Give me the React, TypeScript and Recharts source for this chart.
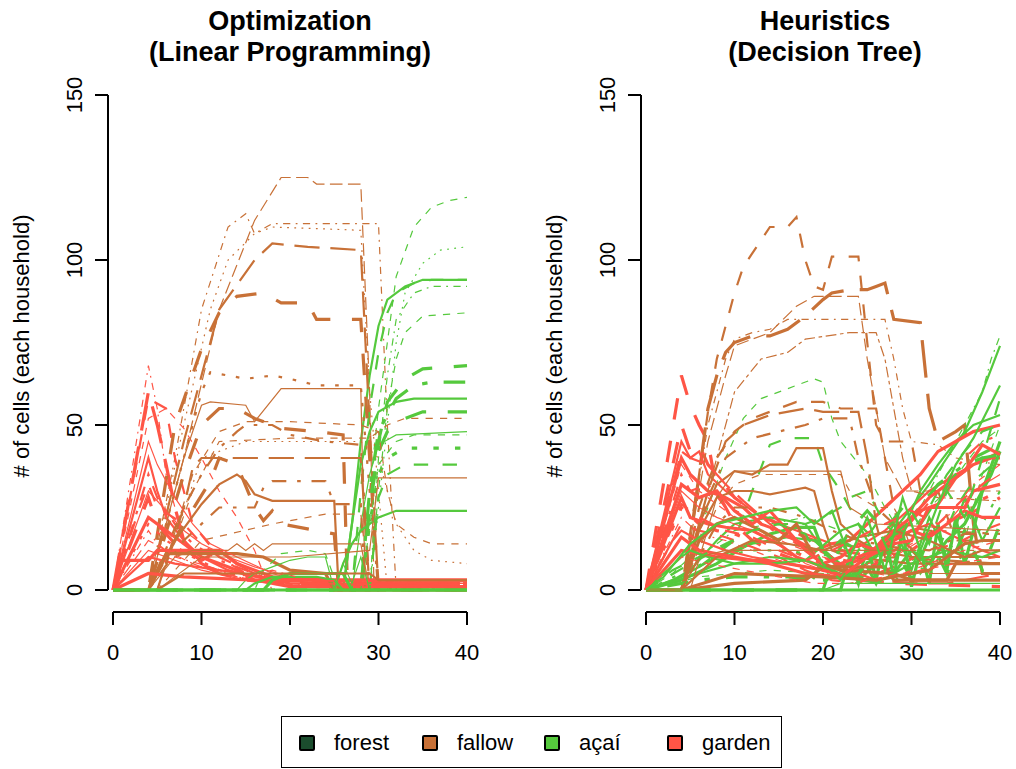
import React from 'react';
import { LineChart, Line, XAxis, YAxis, ReferenceLine } from 'recharts';

type Pt = [number, number];

// time axis ticks and cell-count ticks
const years = [0, 10, 20, 30, 40];
const cellTicks = [0, 50, 100, 150];

const landUses = ['forest', 'fallow', 'açaí', 'garden'];
const landColors = ['#1B4D2E', '#C87137', '#55C93D', '#FF5546'];

// ---------- Optimization (Linear Programming) ----------
const optFallow: Pt[][] = [
  [[0, 0], [4, 0], [8, 40], [12, 85], [16, 112], [19, 125], [22, 125], [23, 123], [28, 123], [29, 60], [29.5, 0], [40, 0]],
  [[0, 0], [4, 0], [7, 40], [10, 85], [13, 110], [15, 114], [16, 108], [18, 111], [30, 111], [31, 50], [32, 0], [40, 0]],
  [[0, 0], [4, 0], [8, 50], [11, 85], [13, 100], [16, 108], [18, 110], [28, 109], [29, 60], [31, 0], [40, 0]],
  [[0, 0], [4, 0], [8, 45], [12, 85], [16, 100], [18, 105], [22, 104], [28, 103], [29, 50], [30, 0], [40, 0]],
  [[0, 0], [4, 0], [7, 50], [10, 73], [12, 84], [14, 89], [17, 90], [19, 87], [22, 87], [23, 82], [28, 82], [29, 40], [30, 0], [40, 0]],
  [[0, 0], [4, 0], [7, 30], [10, 60], [11, 66], [15, 64], [18, 65], [20, 64], [23, 62], [28, 62], [29, 30], [30, 0], [40, 0]],
  [[0, 0], [4, 0], [8, 40], [10, 56], [11, 57], [15, 56], [16, 51], [19, 61], [28, 61], [28.5, 0], [40, 0]],
  [[0, 0], [4, 0], [8, 35], [10, 50], [12, 55], [14, 55], [16, 52], [19, 49], [23, 48], [26, 47], [26.5, 0], [40, 0]],
  [[0, 0], [4, 0], [8, 25], [10, 35], [12, 43], [14, 48], [15, 50], [18, 50], [20, 47], [24, 45], [28, 44], [29, 0], [40, 0]],
  [[0, 0], [5, 0], [8, 25], [9, 37], [10, 40], [28, 40], [29, 0], [40, 0]],
  [[0, 0], [4, 0], [7, 15], [10, 26], [12, 32], [14, 35], [15, 33], [16, 29], [18, 27], [25, 27], [25.5, 0], [40, 0]],
  [[0, 0], [4, 0], [8, 15], [12, 25], [16, 25], [17, 31], [18, 33], [24, 33], [25, 26], [28, 26], [28.5, 0], [40, 0]],
  [[0, 0], [4, 0], [8, 20], [11, 33], [12, 40], [14, 38], [16, 25], [17, 21], [18, 24], [19, 20], [25, 17], [25.5, 0], [40, 0]],
  [[0, 0], [5, 0], [10, 15], [18, 20], [24, 23], [28, 23], [29, 0], [40, 0]],
  [[0, 0], [4, 0], [7, 10], [9, 12], [13, 12], [14, 14], [15, 12], [16, 14], [17, 12], [18, 14], [28, 14], [29, 0], [40, 0]],
  [[0, 0], [4, 0], [6, 11], [14, 11], [17, 10], [20, 6], [24, 5], [25, 0], [40, 0]],
  [[0, 0], [5, 0], [9, 35], [12, 48], [15, 51], [20, 51], [28, 50], [30, 48], [31, 30], [32, 20], [34, 16], [36, 14], [40, 14]],
  [[0, 0], [5, 0], [10, 40], [15, 45], [28, 45], [30, 40], [32, 20], [34, 12], [36, 9], [40, 8]],
  [[0, 0], [5, 0], [9, 30], [12, 45], [20, 46], [29, 46], [31, 50], [33, 52], [40, 52]],
  [[0, 0], [5, 0], [10, 10], [20, 10], [29, 12], [30, 34], [40, 34]],
  [[0, 0], [5, 0], [8, 5], [29, 5], [30, 3], [40, 3]],
];
const optFallowSty = ['5-1', '4-1', '3-1', '5-2', '2-3', '3-2', '1-1', '2-3', '4-2', '5-2', '1-2', '4-2', '2-3', '2-1', '1-1', '1-3', '2-1', '3-1', '2-1', '1-1', '1-2'];

const optAcai: Pt[][] = [
  [[0, 0], [28, 0], [29, 30], [30, 55], [31, 75], [32, 95], [34, 110], [36, 116], [38, 118], [40, 119]],
  [[0, 0], [29, 0], [31, 50], [32, 75], [33, 90], [35, 99], [37, 103], [40, 104]],
  [[0, 0], [26, 0], [27, 20], [28, 45], [29, 65], [30, 80], [31, 88], [33, 92], [35, 94], [40, 94]],
  [[0, 0], [27, 0], [28, 30], [29, 55], [30, 72], [31, 84], [32, 90], [34, 93], [36, 94], [40, 94]],
  [[0, 0], [29, 0], [30, 40], [31, 65], [32, 82], [34, 90], [36, 92], [40, 92]],
  [[0, 0], [29, 0], [30, 30], [31, 55], [32, 70], [33, 78], [35, 83], [40, 84]],
  [[0, 0], [28, 0], [29, 25], [30, 45], [31, 57], [33, 64], [35, 67], [40, 68]],
  [[0, 0], [28, 0], [29, 30], [30, 48], [32, 58], [34, 62], [36, 63], [40, 63]],
  [[0, 0], [26, 0], [27, 20], [28, 38], [29, 48], [30, 54], [32, 57], [34, 58], [40, 58]],
  [[0, 0], [28, 0], [29, 25], [30, 42], [31, 48], [33, 52], [35, 54], [40, 54]],
  [[0, 0], [27, 0], [28, 20], [29, 35], [30, 44], [32, 47], [40, 48]],
  [[0, 0], [28, 0], [30, 38], [32, 45], [34, 47], [40, 47]],
  [[0, 0], [28, 0], [29, 20], [30, 35], [31, 40], [33, 43], [40, 43]],
  [[0, 0], [29, 0], [30, 28], [31, 35], [33, 38], [40, 38]],
  [[0, 0], [25, 0], [26, 8], [27, 14], [28, 18], [30, 22], [32, 24], [40, 24]],
  [[0, 0], [14, 0], [15, 3], [16, 5], [18, 7], [20, 9], [22, 10], [24, 10], [25, 0], [40, 0]],
  [[0, 0], [16, 0], [17, 6], [19, 11], [22, 12], [24, 11], [25.5, 0], [40, 0]],
  [[0, 0], [15, 0], [16, 2], [18, 4], [23, 4], [25, 3], [26, 0], [40, 0]],
  [[0, 0], [17, 0], [18, 3], [20, 5], [26, 5], [27, 0], [40, 0]],
  [[0, 0], [25, 0], [26, 8], [27, 2], [28, 10], [29, 0], [40, 0]],
  [[0, 0], [4, 0], [40, 0]],
];
const optAcaiSty = ['2-1', '3-1', '1-2', '2-2', '4-1', '2-1', '2-3', '4-3', '1-2', '2-3', '1-1', '2-1', '3-3', '2-2', '1-2', '1-1', '2-1', '1-2', '1-3', '1-1', '1-3'];

const optGarden: Pt[][] = [
  [[0, 0], [4, 68], [5, 55], [6, 35], [8, 15], [10, 8], [14, 4], [18, 2], [25, 1], [40, 1]],
  [[0, 0], [4, 60], [5, 50], [6, 38], [7, 25], [8, 15], [10, 8], [12, 5], [15, 3], [20, 2], [40, 2]],
  [[0, 0], [4, 58], [6, 55], [7, 40], [9, 20], [12, 10], [16, 5], [22, 2], [40, 2]],
  [[0, 0], [4, 52], [6, 55], [8, 49], [10, 40], [12, 30], [14, 22], [16, 12], [17, 5], [18, 0], [40, 0]],
  [[0, 0], [4, 40], [5, 30], [6, 22], [8, 15], [10, 10], [13, 6], [16, 4], [20, 2], [40, 1]],
  [[0, 0], [4, 35], [5, 28], [7, 20], [9, 14], [12, 9], [15, 6], [18, 3], [40, 1]],
  [[0, 0], [4, 30], [6, 24], [8, 18], [10, 14], [13, 10], [16, 7], [20, 4], [26, 2], [40, 2]],
  [[0, 0], [4, 28], [5, 20], [7, 14], [10, 9], [12, 12], [14, 8], [17, 4], [22, 2], [40, 2]],
  [[0, 0], [4, 22], [6, 18], [8, 14], [10, 10], [12, 8], [14, 6], [16, 3], [20, 1], [40, 1]],
  [[0, 0], [4, 20], [6, 15], [9, 10], [12, 6], [16, 3], [20, 1], [40, 0]],
  [[0, 0], [1, 9], [4, 9], [5, 12], [12, 12], [14, 8], [18, 4], [25, 3], [40, 3]],
  [[0, 0], [4, 15], [6, 12], [9, 8], [12, 5], [16, 3], [40, 2]],
  [[0, 0], [4, 12], [6, 10], [10, 6], [15, 3], [40, 1]],
  [[0, 0], [3, 25], [4, 32], [5, 25], [8, 20], [10, 14], [12, 10], [15, 5], [19, 2], [40, 1]],
  [[0, 0], [4, 10], [7, 8], [12, 6], [17, 4], [22, 3], [40, 3]],
  [[0, 0], [4, 5], [8, 4], [16, 3], [30, 3], [40, 3]],
  [[0, 0], [4, 45], [5, 38], [7, 28], [9, 20], [11, 14], [14, 10], [18, 5], [22, 2], [40, 1]],
  [[0, 0], [4, 18], [5, 14], [7, 10], [11, 7], [14, 4], [18, 6], [22, 3], [40, 2]],
];
const optGardenSty = ['4-1', '5-3', '2-2', '2-1', '1-2', '4-2', '1-1', '2-3', '1-3', '3-2', '1-3', '5-1', '1-1', '2-2', '1-2', '1-3', '1-1', '4-1'];

// ---------- Heuristics (Decision Tree) ----------
const heuFallow: Pt[][] = [
  [[0, 0], [4, 0], [6, 35], [7, 54], [8, 70], [9, 80], [10, 90], [11, 98], [13, 106], [14, 110], [16, 110], [17, 113], [18, 100], [19, 92], [20, 91], [21, 101], [24, 101], [25, 75], [26, 50], [27, 45], [30, 45], [31, 30], [33, 30], [35, 15], [40, 15]],
  [[0, 0], [4, 0], [5, 15], [6, 35], [7, 55], [8, 65], [9, 72], [10, 75], [12, 77], [14, 77], [16, 79], [18, 83], [20, 88], [21, 90], [23, 91], [25, 91], [26, 92], [27, 93], [28, 82], [31, 81], [32, 55], [33, 45], [35, 48], [36, 50], [37, 20], [38, 5], [40, 5]],
  [[0, 0], [4, 0], [7, 50], [9, 70], [10, 76], [12, 78], [14, 79], [16, 82], [27, 82], [28, 70], [29, 55], [30, 45], [33, 44], [35, 40], [40, 38]],
  [[0, 0], [4, 0], [7, 45], [9, 65], [10, 74], [14, 78], [17, 86], [19, 89], [24, 89], [25, 70], [26, 55], [27, 40], [29, 30], [40, 30]],
  [[0, 0], [4, 0], [8, 40], [10, 60], [13, 70], [16, 72], [18, 76], [23, 78], [26, 78], [27, 70], [28, 55], [29, 40], [30, 30], [33, 28], [40, 27]],
  [[0, 0], [4, 0], [6, 25], [8, 40], [10, 48], [12, 52], [15, 55], [17, 57], [20, 57], [22, 55], [26, 55], [27, 40], [28, 25], [29, 15], [31, 10], [40, 10]],
  [[0, 0], [4, 0], [7, 30], [9, 45], [11, 50], [14, 53], [18, 55], [20, 54], [24, 54], [25, 40], [26, 20], [27, 10], [40, 8]],
  [[0, 0], [4, 0], [7, 28], [9, 40], [12, 46], [15, 48], [18, 50], [20, 52], [23, 52], [24, 40], [26, 25], [28, 20], [32, 18], [40, 17]],
  [[0, 0], [4, 0], [6, 20], [8, 32], [10, 36], [12, 35], [14, 38], [16, 38], [17, 43], [20, 43], [21, 30], [22, 20], [24, 15], [26, 12], [30, 10], [40, 10]],
  [[0, 0], [4, 0], [6, 18], [8, 28], [10, 30], [12, 30], [14, 29], [16, 30], [18, 31], [19, 30], [20, 20], [21, 12], [23, 10], [30, 8], [40, 8]],
  [[0, 0], [4, 0], [8, 25], [10, 32], [13, 35], [15, 35], [22, 35], [23, 30], [26, 25], [28, 25], [29, 20], [30, 12], [40, 12]],
  [[0, 0], [5, 0], [8, 28], [10, 36], [20, 36], [22, 36], [23, 25], [26, 20], [40, 18]],
  [[0, 0], [4, 0], [6, 15], [8, 20], [10, 22], [13, 18], [15, 15], [17, 20], [19, 10], [20, 8], [22, 6], [28, 5], [30, 3], [40, 3]],
  [[0, 0], [4, 0], [10, 2], [18, 3], [20, 7], [27, 7], [28, 3], [34, 3], [35, 8], [40, 8]],
  [[0, 0], [4, 0], [8, 10], [12, 15], [16, 14], [20, 12], [24, 16], [28, 18], [32, 15], [36, 10], [38, 12], [40, 12]],
  [[0, 0], [4, 0], [10, 5], [20, 4], [26, 3], [32, 6], [36, 14], [38, 15], [40, 15]],
  [[0, 0], [4, 0], [8, 20], [10, 25], [14, 25], [18, 22], [21, 18], [24, 15], [28, 13], [32, 12], [36, 17], [40, 17]],
  [[0, 0], [4, 0], [6, 10], [9, 12], [30, 12], [32, 5], [40, 5]],
];
const heuFallowSty = ['2-2', '5-3', '4-1', '5-1', '6-1', '2-2', '5-2', '4-2', '1-2', '1-2', '2-1', '1-1', '1-3', '1-3', '1-2', '1-3', '4-2', '1-1'];

const heuAcai: Pt[][] = [
  [[0, 0], [3, 5], [5, 10], [7, 25], [9, 40], [11, 52], [13, 58], [16, 61], [19, 64], [20, 63], [21, 52], [22, 45], [25, 35], [27, 25], [30, 12], [33, 8], [36, 15], [38, 35], [40, 50]],
  [[0, 0], [4, 4], [7, 12], [10, 18], [14, 20], [18, 22], [22, 18], [25, 12], [28, 15], [31, 25], [34, 40], [36, 50], [38, 60], [39, 70], [40, 77]],
  [[0, 0], [3, 3], [5, 6], [8, 15], [10, 20], [14, 22], [18, 20], [20, 12], [22, 8], [24, 6], [26, 10], [28, 18], [30, 25], [32, 32], [34, 40], [36, 48], [38, 60], [40, 74]],
  [[0, 0], [4, 4], [8, 10], [12, 14], [16, 16], [19, 15], [21, 10], [23, 5], [25, 8], [27, 14], [29, 18], [31, 30], [33, 38], [35, 45], [37, 50], [40, 53]],
  [[0, 0], [5, 5], [10, 15], [12, 30], [14, 44], [16, 46], [19, 46], [20, 38], [22, 30], [24, 20], [26, 15], [28, 10], [30, 15], [32, 25], [34, 35], [36, 42], [38, 48], [40, 50]],
  [[0, 0], [4, 3], [8, 8], [11, 13], [14, 17], [17, 19], [19, 19], [20, 12], [22, 6], [24, 3], [26, 8], [28, 5], [30, 12], [32, 8], [34, 15], [36, 20], [38, 30], [40, 45]],
  [[0, 0], [5, 8], [8, 12], [12, 18], [15, 20], [18, 20], [20, 22], [22, 25], [23, 28], [25, 30], [27, 20], [29, 15], [31, 5], [33, 12], [35, 25], [37, 33], [40, 40]],
  [[0, 0], [4, 5], [8, 10], [12, 12], [16, 12], [20, 10], [22, 15], [24, 5], [26, 12], [28, 2], [30, 10], [32, 4], [34, 15], [36, 8], [38, 20], [40, 30]],
  [[0, 0], [18, 0], [19, 4], [20, 10], [22, 15], [24, 12], [26, 2], [28, 14], [30, 3], [32, 16], [34, 5], [36, 18], [38, 6], [40, 20]],
  [[0, 0], [6, 5], [10, 8], [14, 10], [18, 9], [22, 18], [24, 20], [26, 10], [28, 20], [30, 6], [32, 22], [34, 10], [36, 28], [38, 15], [40, 25]],
  [[0, 0], [22, 0], [23, 10], [24, 2], [25, 14], [26, 3], [27, 16], [28, 4], [29, 18], [30, 1], [31, 12], [32, 2], [33, 20], [34, 6], [35, 22], [36, 8], [37, 18], [38, 30], [39, 35], [40, 42]],
  [[0, 0], [3, 2], [6, 4], [10, 5], [14, 6], [20, 5], [24, 8], [28, 12], [30, 18], [32, 25], [34, 30], [36, 38], [38, 45], [40, 49]],
  [[0, 0], [4, 2], [6, 3], [10, 4], [16, 4], [20, 3], [24, 5], [27, 14], [30, 22], [33, 32], [36, 38], [38, 40], [40, 41]],
  [[0, 0], [2, 5], [4, 10], [5, 12], [7, 10], [10, 8], [14, 8], [18, 9], [22, 5], [26, 2], [30, 8], [34, 12], [38, 10], [40, 12]],
  [[0, 0], [20, 0], [21, 8], [23, 18], [25, 24], [27, 18], [29, 25], [31, 20], [33, 28], [35, 35], [37, 40], [40, 44]],
  [[0, 0], [4, 0], [40, 0]],
  [[0, 0], [20, 0], [22, 2], [40, 2]],
  [[0, 0], [3, 6], [6, 10], [9, 14], [12, 18], [15, 20], [18, 17], [20, 8], [22, 3], [24, 12], [26, 20], [28, 8], [30, 24], [32, 14], [34, 30], [36, 22], [38, 40], [40, 58]],
  [[0, 0], [2, 4], [5, 14], [8, 20], [11, 22], [14, 24], [17, 25], [19, 20], [21, 24], [23, 10], [25, 22], [27, 6], [29, 28], [31, 12], [33, 26], [35, 38], [37, 46], [40, 62]],
];
const heuAcaiSty = ['2-1', '4-1', '1-2', '1-2', '2-2', '1-3', '2-2', '3-2', '2-3', '1-2', '1-3', '2-1', '4-3', '1-2', '2-3', '1-3', '1-1', '2-2', '1-2'];

const heuGarden: Pt[][] = [
  [[0, 0], [4, 65], [5, 56], [6, 50], [7, 45], [8, 30], [9, 25], [10, 20], [12, 15], [14, 12], [16, 10], [18, 8], [20, 6], [24, 3], [28, 2], [40, 1]],
  [[0, 0], [4, 50], [5, 42], [6, 44], [7, 38], [8, 35], [10, 28], [12, 24], [15, 20], [18, 16], [22, 12], [26, 10], [30, 14], [34, 20], [38, 25], [40, 28]],
  [[0, 0], [4, 45], [5, 40], [6, 42], [7, 35], [9, 30], [11, 26], [13, 22], [15, 20], [17, 18], [19, 16], [21, 14], [24, 13], [27, 18], [30, 25], [32, 30], [35, 35], [37, 38], [40, 42]],
  [[0, 0], [4, 40], [5, 35], [7, 30], [9, 28], [11, 25], [13, 20], [15, 18], [17, 15], [19, 12], [21, 14], [23, 15], [25, 20], [27, 25], [29, 30], [31, 35], [33, 42], [35, 45], [37, 48], [40, 50]],
  [[0, 0], [4, 35], [5, 30], [7, 32], [9, 25], [12, 22], [15, 17], [18, 14], [21, 10], [24, 8], [27, 14], [30, 20], [33, 30], [36, 40], [38, 45], [40, 47]],
  [[0, 0], [4, 30], [6, 25], [8, 22], [10, 20], [12, 18], [14, 15], [16, 12], [18, 8], [20, 6], [22, 5], [25, 8], [28, 10], [31, 15], [34, 20], [37, 30], [40, 35]],
  [[0, 0], [4, 25], [6, 20], [8, 18], [10, 17], [12, 15], [15, 14], [18, 10], [21, 7], [24, 4], [27, 10], [30, 12], [33, 18], [36, 25], [40, 30]],
  [[0, 0], [4, 20], [6, 18], [9, 16], [12, 13], [15, 10], [18, 6], [21, 3], [24, 2], [26, 5], [29, 8], [32, 12], [35, 14], [38, 18], [40, 20]],
  [[0, 0], [4, 28], [5, 22], [7, 20], [9, 19], [12, 18], [15, 14], [17, 10], [19, 8], [21, 6], [23, 8], [25, 10], [27, 16], [29, 18], [31, 24], [33, 26], [35, 34], [37, 38], [39, 40], [40, 40]],
  [[0, 0], [3, 15], [4, 18], [6, 15], [9, 12], [12, 10], [16, 8], [20, 6], [24, 10], [28, 16], [30, 18], [32, 20], [35, 16], [38, 12], [40, 10]],
  [[0, 0], [4, 38], [6, 30], [8, 26], [10, 22], [13, 18], [16, 14], [20, 10], [24, 6], [28, 4], [32, 8], [36, 12], [40, 15]],
  [[0, 0], [4, 42], [5, 40], [7, 38], [9, 32], [11, 27], [14, 20], [17, 14], [20, 10], [23, 6], [26, 3], [30, 2], [34, 2], [38, 4], [40, 5]],
  [[0, 0], [4, 12], [8, 10], [12, 9], [16, 8], [20, 6], [24, 10], [26, 12], [28, 15], [30, 18], [32, 16], [34, 20], [36, 24], [38, 22], [40, 22]],
  [[0, 0], [4, 22], [6, 17], [9, 15], [12, 12], [15, 9], [18, 7], [22, 5], [26, 8], [30, 14], [34, 22], [37, 32], [40, 38]],
  [[0, 0], [4, 16], [6, 12], [10, 10], [14, 8], [18, 5], [22, 4], [25, 10], [28, 14], [30, 15], [32, 25], [36, 25], [37, 30], [40, 32]],
  [[0, 0], [4, 10], [7, 8], [11, 6], [15, 4], [19, 2], [23, 2], [27, 4], [31, 6], [35, 8], [40, 10]],
  [[0, 0], [4, 32], [6, 28], [8, 30], [10, 24], [12, 20], [14, 24], [16, 18], [18, 12], [20, 8], [22, 10], [24, 14], [26, 12], [28, 18], [30, 22], [32, 28], [34, 32], [36, 36], [38, 44], [40, 41]],
  [[0, 0], [4, 26], [6, 22], [9, 18], [12, 16], [15, 12], [18, 9], [21, 12], [24, 16], [27, 20], [30, 24], [33, 20], [36, 28], [38, 32], [40, 36]],
];
const heuGardenSty = ['2-3', '2-3', '1-2', '1-3', '4-2', '1-1', '3-3', '2-2', '1-3', '1-2', '2-1', '5-2', '1-3', '4-1', '1-3', '2-1', '1-3', '2-2'];

// R-like line types
const LTY: Record<string, number[] | null> = {
  '1': null,
  '2': [4, 4],
  '3': [1, 3],
  '4': [1, 3, 4, 3],
  '5': [7, 3],
  '6': [2, 2, 6, 2],
};
const LWD: Record<string, number> = { '1': 1.2, '2': 2.2, '3': 3.2 };

function lineStyle(code: string) {
  const [lty, lwd] = code.split('-');
  const pat = LTY[lty];
  const unit = 1.8 * Number(lwd);
  return {
    strokeWidth: LWD[lwd],
    strokeDasharray: pat ? pat.map((n) => n * unit).join(' ') : undefined,
  };
}

const FONT = '"Liberation Sans", Arial, Helvetica, sans-serif';
const X_MIN = -0.565;
const Y_MIN = -6.67;
const CHART_W = 483;
const CHART_H = 700;

const XTick = (props: any) => {
  const { x, y, payload } = props;
  return (
    <text x={x} y={y + 35} textAnchor="middle" fontSize={22} fontFamily={FONT} fill="#000">
      {payload.value}
    </text>
  );
};

const YTick = (props: any) => {
  const { x, y, payload } = props;
  const bx = x - 13;
  return (
    <text x={bx} y={y} transform={`rotate(-90, ${bx}, ${y})`} textAnchor="middle" fontSize={22} fontFamily={FONT} fill="#000">
      {payload.value}
    </text>
  );
};

interface PanelProps {
  fallow: Pt[][];
  fallowSty: string[];
  acai: Pt[][];
  acaiSty: string[];
  garden: Pt[][];
  gardenSty: string[];
}

function Panel({ fallow, fallowSty, acai, acaiSty, garden, gardenSty }: PanelProps) {
  const series: { pts: Pt[]; sty: string; color: string }[] = [];
  const n = Math.max(fallow.length, acai.length, garden.length);
  for (let i = 0; i < n; i++) {
    if (fallow[i]) series.push({ pts: fallow[i], sty: fallowSty[i], color: landColors[1] });
    if (acai[i]) series.push({ pts: acai[i], sty: acaiSty[i], color: landColors[2] });
    if (garden[i]) series.push({ pts: garden[i], sty: gardenSty[i], color: landColors[3] });
  }

  return (
    <LineChart width={CHART_W} height={CHART_H} margin={{ top: 95, right: 11, bottom: 58, left: 48 }}>
      <XAxis
        type="number"
        dataKey="t"
        domain={[X_MIN, 40.565]}
        ticks={years}
        allowDataOverflow
        axisLine={false}
        tickLine={{ stroke: '#000', strokeWidth: 2 }}
        tickSize={13}
        tickMargin={0}
        height={30}
        interval={0}
        tick={<XTick />}
      />
      <YAxis
        type="number"
        domain={[Y_MIN, 150]}
        ticks={cellTicks}
        allowDataOverflow
        axisLine={false}
        tickLine={{ stroke: '#000', strokeWidth: 2 }}
        tickSize={13}
        tickMargin={0}
        width={60}
        interval={0}
        tick={<YTick />}
      />
      <ReferenceLine segment={[{ x: 0, y: Y_MIN }, { x: 40, y: Y_MIN }]} stroke="#000" strokeWidth={2} ifOverflow="visible" />
      <ReferenceLine segment={[{ x: X_MIN, y: 0 }, { x: X_MIN, y: 150 }]} stroke="#000" strokeWidth={2} ifOverflow="visible" />
      {series.map((s, i) => {
        const st = lineStyle(s.sty);
        return (
          <Line
            key={i}
            data={s.pts.map(([t, v]) => ({ t, v }))}
            dataKey="v"
            type="linear"
            stroke={s.color}
            strokeWidth={st.strokeWidth}
            strokeDasharray={st.strokeDasharray}
            dot={false}
            activeDot={false}
            isAnimationActive={false}
            legendType="none"
          />
        );
      })}
    </LineChart>
  );
}

const titleStyle: React.CSSProperties = {
  position: 'absolute',
  width: 400,
  textAlign: 'center',
  fontFamily: FONT,
  fontWeight: 'bold',
  fontSize: 27,
  lineHeight: '31px',
  top: 6,
};

const yTitleStyle: React.CSSProperties = {
  position: 'absolute',
  width: 400,
  height: 26,
  lineHeight: '26px',
  textAlign: 'center',
  fontFamily: FONT,
  fontSize: 22,
  top: 333,
  transform: 'rotate(-90deg)',
  whiteSpace: 'nowrap',
};

// legend positions in page pixels
const legendSquareX = [299, 422, 544, 667];
const legendTextX = [334, 457, 579, 702];

export default function App() {
  // body margin removed so the page is addressed in whole-window pixels
  return (
    <div style={{ position: 'relative', width: 1016, height: 769, overflow: 'hidden', fontFamily: FONT }}>
      <style>{'html, body { margin: 0; overflow: hidden; }'}</style>
      <div style={{ position: 'absolute', left: 0, top: 0, width: CHART_W, height: CHART_H }}>
        <Panel fallow={optFallow} fallowSty={optFallowSty} acai={optAcai} acaiSty={optAcaiSty} garden={optGarden} gardenSty={optGardenSty} />
      </div>
      <div style={{ position: 'absolute', left: 533, top: 0, width: CHART_W, height: CHART_H }}>
        <Panel fallow={heuFallow} fallowSty={heuFallowSty} acai={heuAcai} acaiSty={heuAcaiSty} garden={heuGarden} gardenSty={heuGardenSty} />
      </div>

      <div style={{ ...titleStyle, left: 290 - 200 }}>
        Optimization
        <br />
        (Linear Programming)
      </div>
      <div style={{ ...titleStyle, left: 825 - 200 }}>
        Heuristics
        <br />
        (Decision Tree)
      </div>

      <div style={{ ...yTitleStyle, left: 22 - 200 }}># of cells (each household)</div>
      <div style={{ ...yTitleStyle, left: 555 - 200 }}># of cells (each household)</div>

      <div
        style={{
          position: 'absolute',
          left: 281,
          top: 716,
          width: 501,
          height: 52,
          border: '1.5px solid #000',
          boxSizing: 'border-box',
        }}
      />
      {landUses.map((name, i) => (
        <React.Fragment key={name}>
          <div
            style={{
              position: 'absolute',
              left: legendSquareX[i],
              top: 735,
              width: 16,
              height: 16,
              boxSizing: 'border-box',
              border: '2px solid #000',
              borderRadius: 2,
              background: landColors[i],
            }}
          />
          <div
            style={{
              position: 'absolute',
              left: legendTextX[i],
              top: 732,
              fontSize: 22,
              lineHeight: '22px',
              whiteSpace: 'nowrap',
            }}
          >
            {name}
          </div>
        </React.Fragment>
      ))}
    </div>
  );
}
